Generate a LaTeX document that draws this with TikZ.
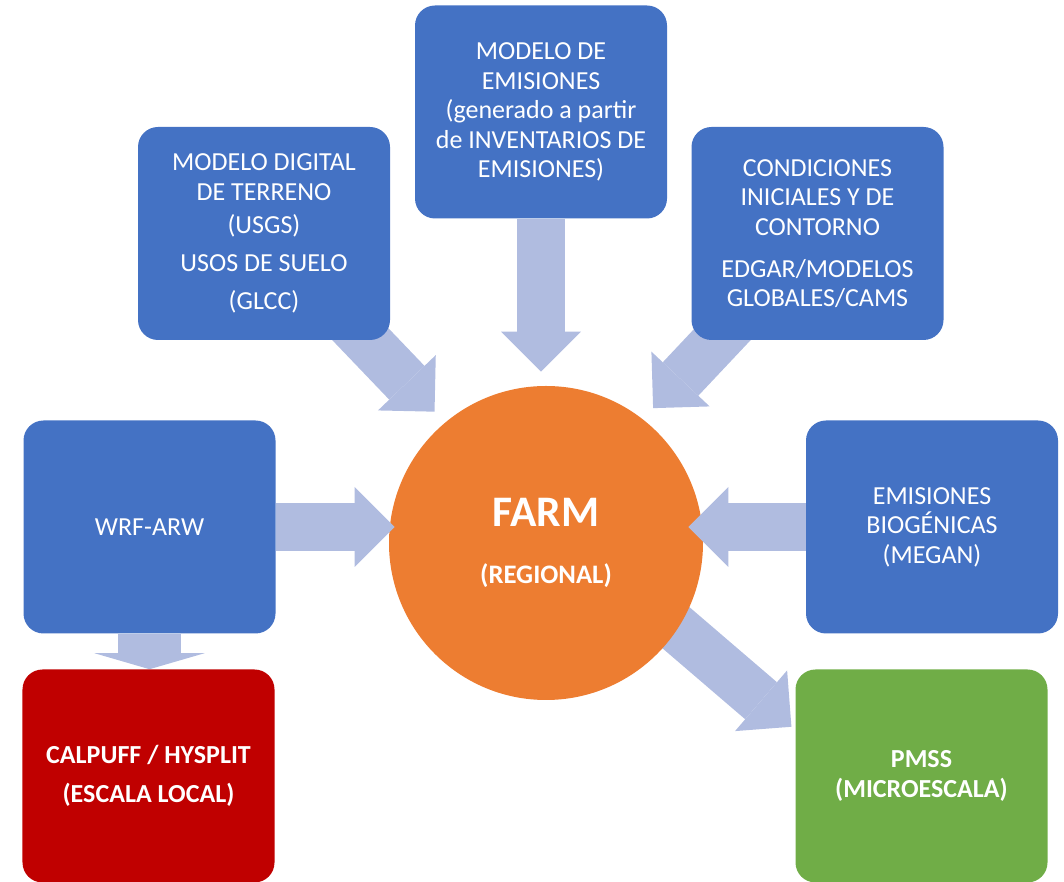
\documentclass[tikz,border=0pt]{standalone}
\usepackage{fontspec}
\setmainfont{Carlito}
\usetikzlibrary{arrows.meta, positioning, calc}
\definecolor{boxblue}{HTML}{4472C4}
\definecolor{farmorange}{HTML}{ED7D31}
\definecolor{localred}{HTML}{C00000}
\definecolor{microgreen}{HTML}{70AD47}
\definecolor{flowblue}{HTML}{B0BCE0}
\pgfdeclarelayer{back}
\pgfdeclarelayer{mid}
\pgfsetlayers{back,mid,main}

\begin{document}
\begin{tikzpicture}[
  model/.style={rectangle, rounded corners=0.5cm, minimum width=6.3cm, minimum height=5.325cm, fill=boxblue, text=white, align=center, font=\fontsize{18.5}{21}\selectfont},
  flow/.style={line width=1.22cm, draw=flowblue, -{Triangle[length=1cm 0 0, width=2cm 0 0, line width=0pt]}},
  drop/.style={line width=1.575cm, draw=flowblue, -{Triangle[length=0.4cm 0 0, width=2.75cm 0 0, line width=0pt]}}
]
\useasboundingbox (0,0) rectangle (26.6,22.05);

\begin{pgfonlayer}{mid}
\node[circle, minimum size=7.85cm, inner sep=0pt, fill=farmorange, text=white, align=center, font=\bfseries\fontsize{19}{23}\selectfont] (farm) at (13.65,8.475) {{\fontsize{31}{37}\selectfont FARM}\\[17pt](REGIONAL)};
\end{pgfonlayer}

\node[model] (mdt) at (6.6,16.2125) {MODELO DIGITAL\\DE TERRENO\\[3pt](USGS)\\[6pt]USOS DE SUELO\\[6pt](GLCC)};
\node[model] (emis) at (13.525,19.25) {MODELO DE\\EMISIONES\\(generado a partir\\de INVENTARIOS DE\\EMISIONES)};
\node[model] (cond) at (20.4375,16.2125) {CONDICIONES\\INICIALES Y DE\\CONTORNO\\[9pt]EDGAR/MODELOS\\GLOBALES/CAMS};
\node[model] (wrf) at (3.7375,8.875) {WRF-ARW};
\node[model] (bio) at (23.3,8.875) {EMISIONES\\BIOGÉNICAS\\(MEGAN)};
\node[model, fill=localred, font=\bfseries\fontsize{18.5}{21}\selectfont] (calpuff) at (3.7125,2.65) {CALPUFF / HYSPLIT\\[7pt](ESCALA LOCAL)};
\node[model, fill=microgreen, font=\bfseries\fontsize{18.5}{21}\selectfont] (pmss) at (23.0375,2.65) {PMSS\\(MICROESCALA)};

% inputs into FARM
\begin{pgfonlayer}{mid}
\draw[flow, shorten >=0.35cm] (emis) -- (emis |- farm.north);
\draw[flow, shorten >=0.375cm] (mdt.center) -- (farm.130);
\draw[flow, shorten >=0.375cm] (cond.center) -- (farm.52);
\draw[flow, shorten >=-0.15cm] (wrf) -- (wrf -| farm.west);
\draw[flow, shorten >=-0.375cm] (bio) -- (bio -| farm.east);
\draw[drop] (wrf) -- (wrf |- calpuff.north);
\end{pgfonlayer}

\begin{pgfonlayer}{back}
\draw[flow, shorten >=0.125cm] ($(farm.center)!0.7!(farm.-30)$) -- (pmss.160);
\end{pgfonlayer}
\end{tikzpicture}
\end{document}
